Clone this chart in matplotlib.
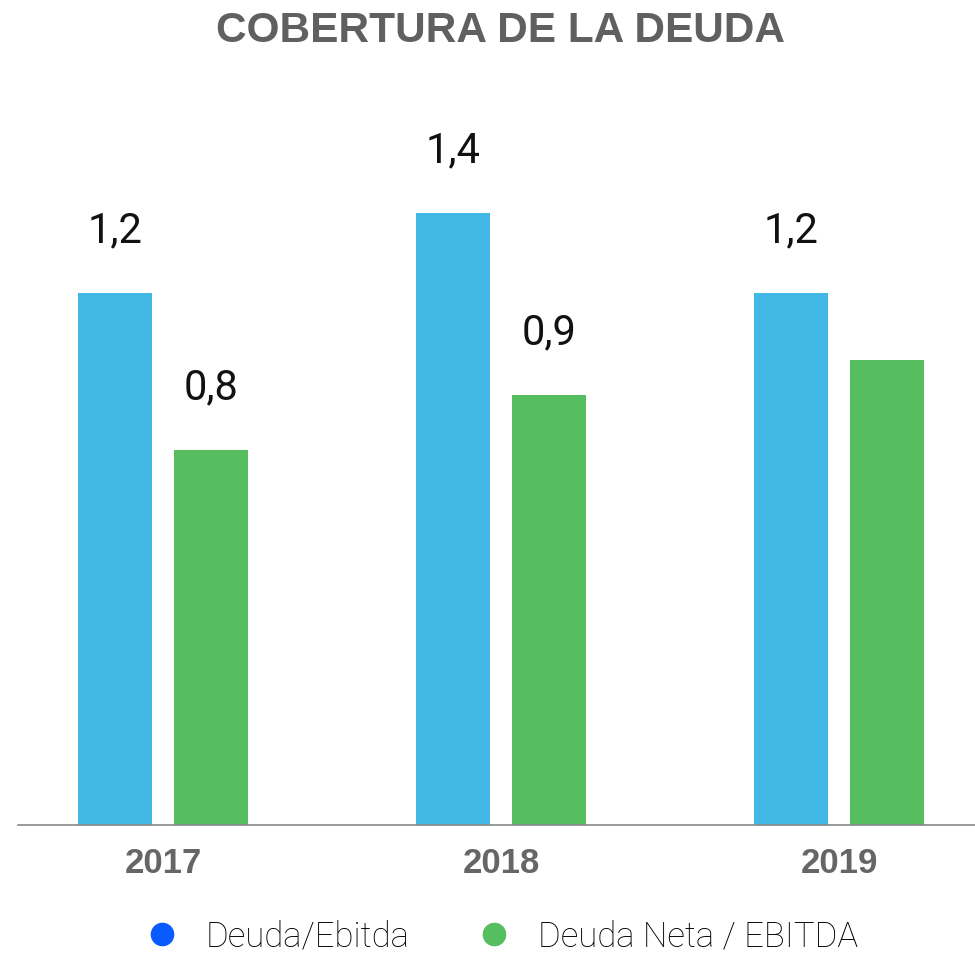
import matplotlib
matplotlib.use("Agg")
import matplotlib.pyplot as plt
from matplotlib.lines import Line2D
import numpy as np

years = ["2017", "2018", "2019"]
deuda_ebitda = [1.2, 1.38, 1.2]
deuda_neta = [0.846, 0.97, 1.047]
labels_ebitda = ["1,2", "1,4", "1,2"]
labels_neta = ["0,8", "0,9", ""]
series_names = ["Deuda/Ebitda", "Deuda Neta / EBITDA"]

BLUE = "#41B8E6"
GREEN = "#56BE5E"
LEG_BLUE = "#0A5BFF"
GRAY = "#606060"

fig = plt.figure(figsize=(9.75, 9.54), dpi=100)
ax = fig.add_axes([18/975, (954-826)/954, 1 - 18/975, (826-116)/954])

x = np.arange(len(years))
w = 0.219
off = 0.142
b1 = ax.bar(x - off, deuda_ebitda, width=w, color=BLUE)
b2 = ax.bar(x + off, deuda_neta, width=w, color=GREEN)

lab_font = dict(family=["Roboto", "DejaVu Sans"], weight="normal", size=30, color="#111111")
for rect, lab in zip(b1, labels_ebitda):
    if lab:
        ax.annotate(lab, (rect.get_x() + rect.get_width()/2, rect.get_height()),
                    xytext=(0, 45), textcoords="offset points", ha="center", va="center", **lab_font)
for rect, lab in zip(b2, labels_neta):
    if lab:
        ax.annotate(lab, (rect.get_x() + rect.get_width()/2, rect.get_height()),
                    xytext=(0, 45), textcoords="offset points", ha="center", va="center", **lab_font)

ax.set_xlim(-0.429, 2.402)
ax.set_ylim(0, 1.6)
for s in ["top", "right", "left"]:
    ax.spines[s].set_visible(False)
ax.spines["bottom"].set_color("#888888")
ax.spines["bottom"].set_linewidth(1.2)
ax.set_yticks([])
ax.set_xticks(x)
ax.set_xticklabels(years, fontfamily=["Liberation Sans", "DejaVu Sans"],
                   fontweight="bold", fontsize=25, color="#666666")
ax.tick_params(axis="x", length=0, pad=15)

fig.text(0.513, 1 - 31/954, "COBERTURA DE LA DEUDA", ha="center", va="center",
         fontfamily=["Liberation Sans", "DejaVu Sans"], fontweight="bold",
         fontsize=30.5, color=GRAY)

handles = [Line2D([], [], marker="o", linestyle="", markersize=16, color=LEG_BLUE),
           Line2D([], [], marker="o", linestyle="", markersize=16, color=GREEN)]
fig.legend(handles, series_names, loc="center", bbox_to_anchor=(0.514, 1 - 937/954),
           ncol=2, frameon=False, handlelength=1.0, handletextpad=0.75, columnspacing=1.95,
           prop=dict(family=["Roboto", "DejaVu Sans"], weight="light", size=25))

fig.savefig("out.png", dpi=100, facecolor="white")
